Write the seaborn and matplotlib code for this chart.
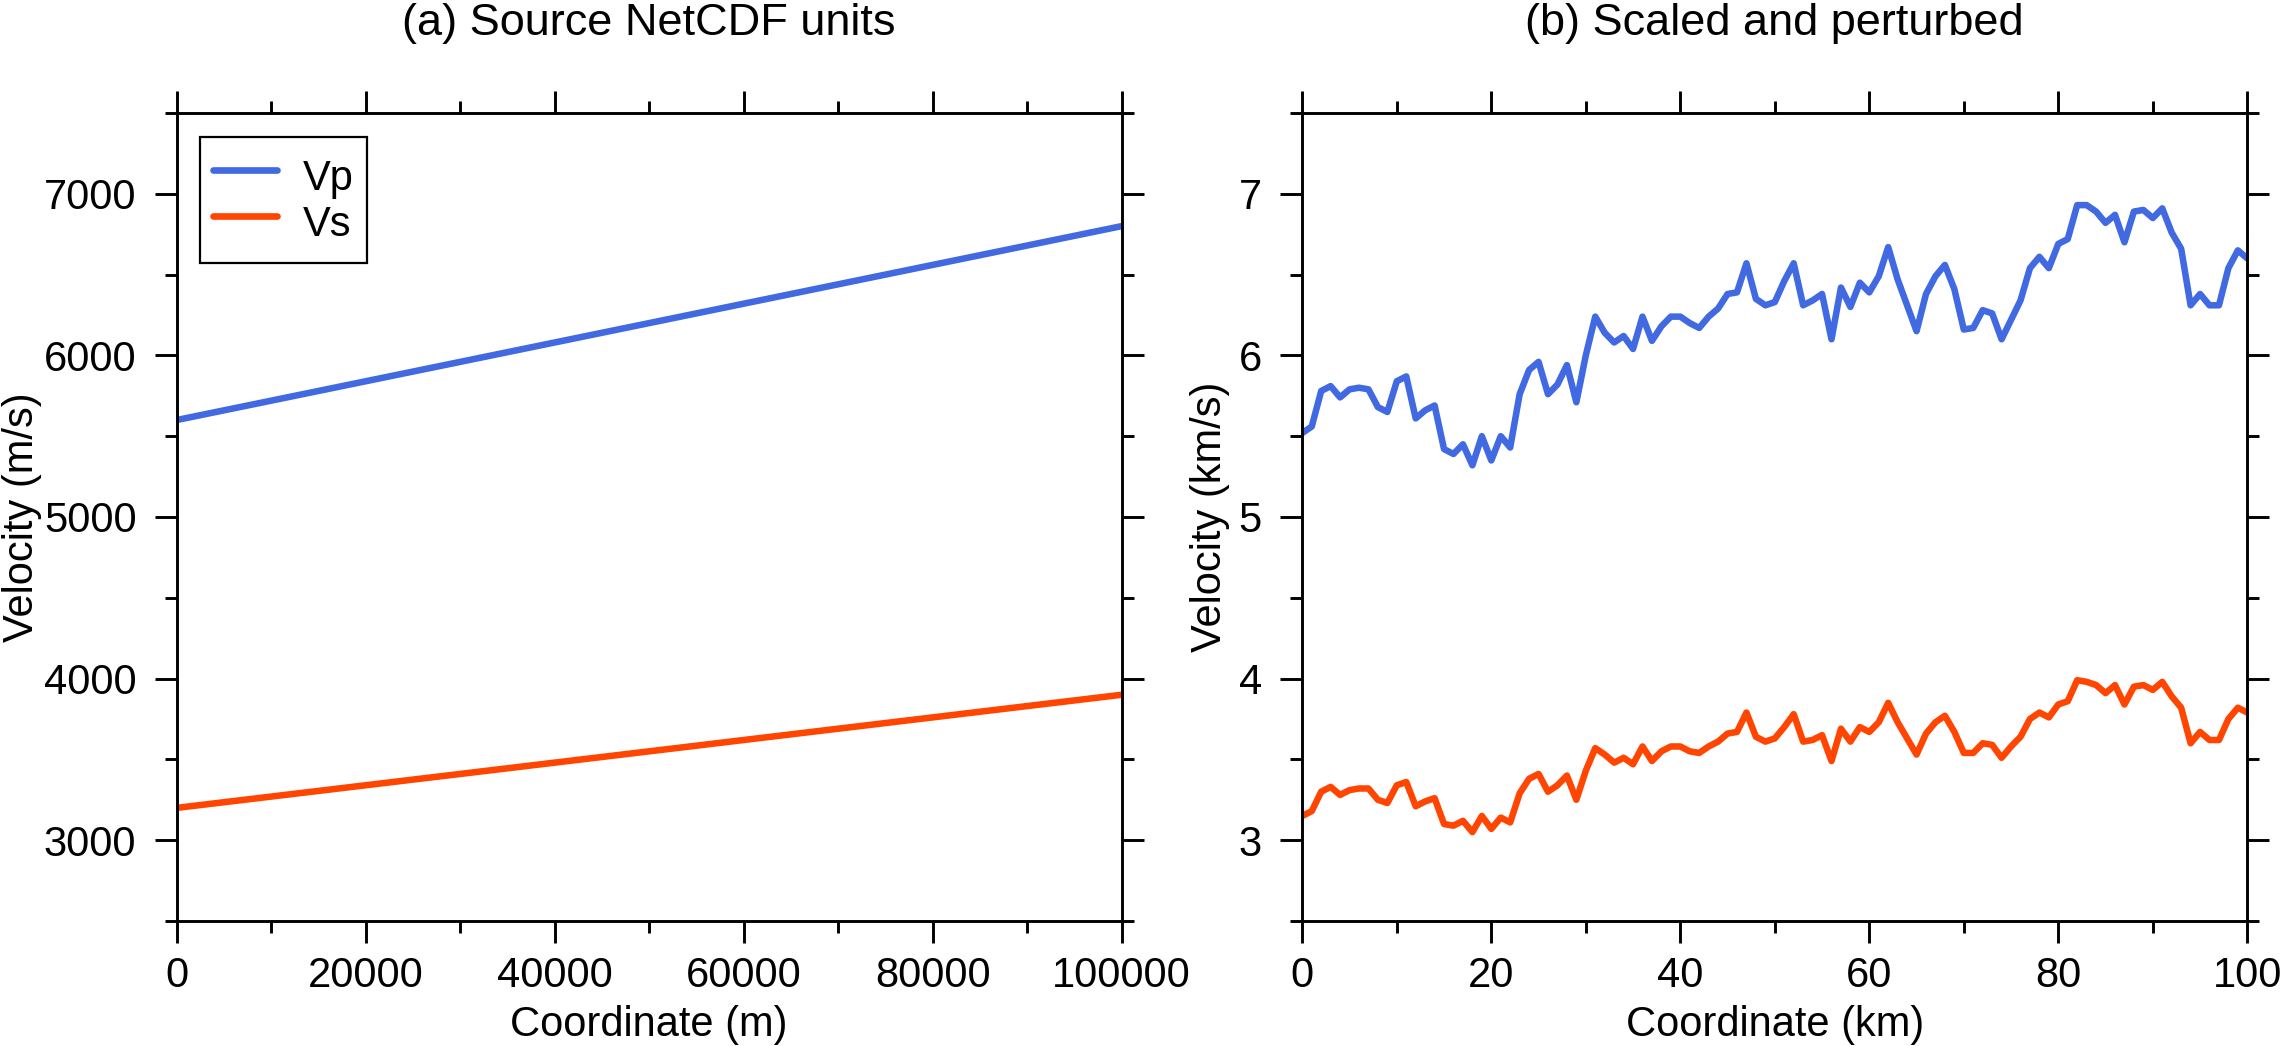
import numpy as np
import pandas as pd
import seaborn as sns
import matplotlib.pyplot as plt
from matplotlib.ticker import MultipleLocator

# (a) source NetCDF values, metres and m/s
coord_m = [0, 100000]
vp_ms = [5600, 6800]
vs_ms = [3200, 3900]

# (b) scaled to km, km/s and perturbed (1 km spacing)
coord_km = list(range(0, 101))
vp_kms = [
    5.52, 5.56, 5.78, 5.81, 5.74, 5.79, 5.80, 5.79, 5.68, 5.65,
    5.84, 5.87, 5.61, 5.66, 5.69, 5.42, 5.39, 5.45, 5.32, 5.50,
    5.35, 5.50, 5.43, 5.76, 5.91, 5.96, 5.76, 5.82, 5.94, 5.71,
    6.00, 6.24, 6.14, 6.08, 6.12, 6.04, 6.24, 6.09, 6.18, 6.24,
    6.24, 6.20, 6.17, 6.24, 6.29, 6.38, 6.39, 6.57, 6.35, 6.31,
    6.33, 6.46, 6.57, 6.31, 6.34, 6.38, 6.10, 6.42, 6.30, 6.45,
    6.39, 6.49, 6.67, 6.47, 6.31, 6.15, 6.38, 6.49, 6.56, 6.41,
    6.16, 6.17, 6.28, 6.26, 6.10, 6.22, 6.34, 6.54, 6.61, 6.54,
    6.69, 6.72, 6.93, 6.93, 6.89, 6.82, 6.87, 6.70, 6.89, 6.90,
    6.85, 6.91, 6.76, 6.66, 6.31, 6.38, 6.31, 6.31, 6.54, 6.65,
    6.60,
]
vs_kms = [
    3.15, 3.18, 3.30, 3.33, 3.28, 3.31, 3.32, 3.32, 3.25, 3.23,
    3.34, 3.36, 3.21, 3.24, 3.26, 3.10, 3.09, 3.12, 3.05, 3.15,
    3.07, 3.14, 3.11, 3.29, 3.38, 3.41, 3.30, 3.34, 3.40, 3.25,
    3.43, 3.57, 3.53, 3.48, 3.51, 3.47, 3.58, 3.49, 3.55, 3.58,
    3.58, 3.55, 3.54, 3.58, 3.61, 3.66, 3.67, 3.79, 3.64, 3.61,
    3.63, 3.70, 3.78, 3.61, 3.62, 3.65, 3.49, 3.69, 3.61, 3.70,
    3.67, 3.73, 3.85, 3.73, 3.63, 3.53, 3.66, 3.73, 3.77, 3.67,
    3.54, 3.54, 3.60, 3.59, 3.51, 3.58, 3.64, 3.75, 3.79, 3.76,
    3.84, 3.86, 3.99, 3.98, 3.96, 3.91, 3.96, 3.84, 3.95, 3.96,
    3.93, 3.98, 3.89, 3.82, 3.60, 3.67, 3.62, 3.62, 3.75, 3.82,
    3.79,
]

VP_COLOR = "#4169E1"  # royalblue
VS_COLOR = "#FF4500"  # orangered
LW = 4.7

sns.set_style("ticks")
plt.rcParams["font.family"] = ["Liberation Sans", "DejaVu Sans"]
plt.rcParams.update({
    "font.size": 30,
    "text.color": "black",
    "axes.labelcolor": "black",
    "xtick.color": "black",
    "ytick.color": "black",
    "axes.edgecolor": "black",
    "axes.linewidth": 2.1,
})


def style_axis(ax, xmajor, xminor, ymajor, yminor):
    ax.xaxis.set_major_locator(MultipleLocator(xmajor))
    ax.xaxis.set_minor_locator(MultipleLocator(xminor))
    ax.yaxis.set_major_locator(MultipleLocator(ymajor))
    ax.yaxis.set_minor_locator(MultipleLocator(yminor))
    ax.tick_params(which="both", direction="out", top=True, right=True,
                   width=2.1, color="black")
    ax.tick_params(which="major", length=16)
    ax.tick_params(which="minor", length=8.5)
    ax.tick_params(axis="x", which="major", labelsize=30, pad=9)
    ax.tick_params(axis="y", which="major", labelsize=30, pad=13)
    for sp in ax.spines.values():
        sp.set_visible(True)
        sp.set_color("black")
        sp.set_linewidth(2.1)


fig = plt.figure(figsize=(22.8, 10.46), dpi=100)
ax1 = fig.add_axes([176.7 / 2280, 125 / 1046, 945 / 2280, 808 / 1046])
ax2 = fig.add_axes([1302.3 / 2280, 125 / 1046, 945 / 2280, 808 / 1046])

# ---- panel (a)
df_a = pd.DataFrame({"x": coord_m, "Vp": vp_ms, "Vs": vs_ms})
sns.lineplot(data=df_a, x="x", y="Vp", ax=ax1, color=VP_COLOR, lw=LW, label="Vp")
sns.lineplot(data=df_a, x="x", y="Vs", ax=ax1, color=VS_COLOR, lw=LW, label="Vs")
ax1.set_xlim(0, 100000)
ax1.set_ylim(2500, 7500)
style_axis(ax1, 20000, 10000, 1000, 500)
ax1.set_title("(a) Source NetCDF units", fontsize=32.5, y=1.0965, pad=0)
ax1.set_xlabel("Coordinate (m)", fontsize=30)
ax1.set_ylabel("Velocity (m/s)", fontsize=30)
ax1.xaxis.set_label_coords(0.5, -0.104)
ax1.yaxis.set_label_coords(-0.143, 0.5)
leg = ax1.legend(loc="upper left", bbox_to_anchor=(0.025, 0.9707),
                 borderaxespad=0, fontsize=30, handlelength=1.55,
                 handleheight=1.66, handletextpad=0.62, labelspacing=-0.22,
                 borderpad=0.3, fancybox=False, framealpha=1,
                 edgecolor="black")
leg.get_frame().set_linewidth(1.6)
for h in leg.get_lines():
    h.set_linewidth(4.8)

# ---- panel (b)
df_b = pd.DataFrame({"x": coord_km, "Vp": vp_kms, "Vs": vs_kms})
sns.lineplot(data=df_b, x="x", y="Vp", ax=ax2, color=VP_COLOR, lw=LW)
sns.lineplot(data=df_b, x="x", y="Vs", ax=ax2, color=VS_COLOR, lw=LW)
ax2.set_xlim(0, 100)
ax2.set_ylim(2.5, 7.5)
style_axis(ax2, 20, 10, 1, 0.5)
ax2.set_title("(b) Scaled and perturbed", fontsize=32.5, y=1.0965, pad=0)
ax2.set_xlabel("Coordinate (km)", fontsize=30)
ax2.set_ylabel("Velocity (km/s)", fontsize=30)
ax2.xaxis.set_label_coords(0.5, -0.104)
ax2.yaxis.set_label_coords(-0.0765, 0.5)

fig.savefig("out.png", dpi=100)
